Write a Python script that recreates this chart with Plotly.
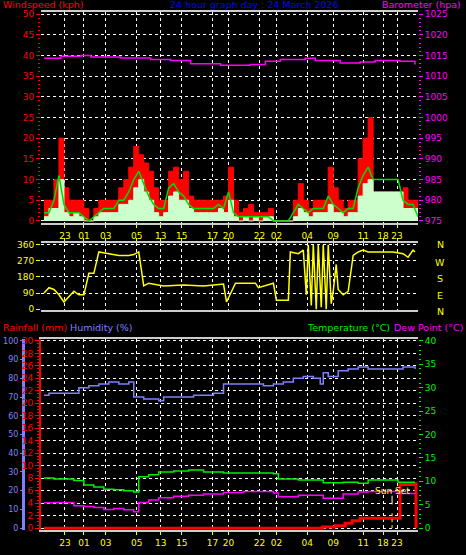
import plotly.graph_objects as go

# x positions are minutes-ish offsets along the log (irregular sample spacing)
tick_pos = [24, 43, 65, 96, 120, 141, 172, 188, 219, 236, 267, 293, 323, 343, 357]
tick_lab = ["23", "01", "03", "05", "13", "15", "17", "20", "22", "02", "04", "09", "11", "18", "23"]

wx = list(range(3, 379, 5))
gust = [5, 5, 10, 20, 8, 5, 5, 5, 3, 0, 3, 5, 5, 5, 5, 8, 10, 13, 18, 16, 14, 12, 8, 5, 5, 12, 13, 10, 12, 6,
        5, 5, 5, 5, 5, 5, 6, 13, 5, 2, 3, 4, 2, 2, 2, 3, 0, 0, 0, 0, 5, 9, 5, 3, 5, 5, 5, 13, 8, 5,
        3, 5, 5, 15, 20, 25, 7, 7, 7, 7, 7, 7, 8, 5, 5, 0]
avg = [2, 2, 5, 11, 4, 2, 2, 2, 1, 0, 1, 2, 3, 3, 3, 5, 5, 7, 10, 12, 9, 6, 4, 3, 3, 8, 9, 7, 6, 4,
       3, 3, 3, 3, 3, 4, 3, 7, 2, 1, 1, 1, 1, 1, 1, 1, 0, 0, 0, 0, 2, 4, 3, 2, 3, 3, 3, 6, 4, 3,
       2, 3, 3, 8, 11, 13, 10, 10, 10, 10, 10, 10, 5, 4, 4, 1]
wind = [1, 3, 3, 10, 2, 1, 2, 1, 0, 0, 1, 2, 2, 2, 2, 4, 4, 5, 8, 10, 7, 5, 2, 1, 2, 6, 7, 5, 5, 3,
        2, 2, 2, 2, 2, 3, 2, 5, 1, 0, 1, 0, 1, 0, 1, 1, 0, 0, 0, 0, 1, 3, 2, 1, 2, 2, 2, 4, 2, 2,
        1, 2, 2, 6, 9, 10, 7, 7, 7, 7, 7, 7, 3, 3, 3, 0]

px_ = [3, 20, 40, 50, 80, 110, 130, 150, 180, 210, 225, 240, 265, 275, 300, 320, 335, 360, 375]
pres = [1014.3, 1014.8, 1015, 1014.6, 1014.4, 1014, 1013.8, 1013, 1012.6, 1012.8, 1013.6, 1014, 1014.3,
        1013.8, 1013.2, 1013.4, 1013.8, 1013.6, 1012.8]

dx = [3, 8, 13, 18, 23, 28, 33, 38, 43, 48, 53, 58, 63, 68, 73, 78, 83, 88, 93, 98, 103, 108, 123, 143,
      163, 183, 186, 190, 195, 215, 218, 233, 236, 248, 250, 258, 263, 266, 268, 271, 273, 276, 278, 281,
      283, 286, 288, 291, 293, 296, 298, 303, 306, 308, 313, 318, 323, 328, 333, 353, 363, 368, 373, 375]
ddir = [90, 120, 110, 80, 40, 70, 100, 80, 80, 200, 200, 320, 315, 310, 305, 300, 300, 300, 305, 320,
        130, 145, 130, 135, 130, 140, 40, 90, 145, 145, 120, 145, 50, 50, 320, 310, 330, 80, 360, 20,
        360, 0, 360, 10, 360, 0, 360, 30, 100, 250, 110, 80, 90, 100, 300, 320, 330, 320, 320, 320, 310,
        290, 330, 320]

hx = [3, 8, 13, 23, 33, 38, 48, 58, 68, 78, 88, 93, 103, 113, 118, 123, 133, 143, 153, 163, 173, 183, 193,
      203, 213, 223, 233, 243, 253, 263, 273, 280, 283, 288, 298, 308, 318, 323, 328, 343, 358, 363, 373, 375]
hum = [71, 72, 72, 72, 72, 75, 76, 77, 78, 77, 78, 70, 69, 69, 68, 70, 70, 70, 71, 71, 72, 77, 77, 77,
       77, 76, 77, 78, 80, 81, 80, 77, 83, 81, 84, 85, 86, 86, 85, 85, 85, 86, 86, 85]

tx = [3, 13, 33, 43, 53, 63, 73, 83, 93, 98, 108, 118, 133, 148, 163, 183, 203, 233, 238, 258, 278, 283,
      303, 318, 328, 353, 358, 375]
temp = [10.7, 10.5, 10.2, 9.2, 8.8, 8.3, 8.2, 8.0, 7.7, 11.0, 11.4, 12.0, 12.2, 12.4, 12.0, 11.8, 11.8,
        11.6, 10.5, 10.3, 10.3, 9.7, 9.8, 9.6, 10.3, 10.3, 9.8, 9.8]
dew = [5.4, 5.5, 4.8, 4.6, 4.4, 4.0, 4.2, 3.9, 3.5, 5.5, 6.0, 6.5, 6.8, 7.0, 7.3, 7.6, 7.8, 7.5, 6.7,
       7.0, 7.0, 6.4, 7.3, 7.7, 7.8, 7.8, 7.4, 7.3]

rx = [3, 282, 295, 305, 312, 320, 357, 360, 375, 376]
rain = [0, 0.2, 0.4, 0.8, 1.2, 1.6, 1.6, 7.0, 7.1, 0]

W, H = 466, 555


def fx(p):
    return p / W


def fy(p):
    return 1 - p / H


fnt = dict(family="DejaVu Sans", size=9)
XR = [0, 378]
fig = go.Figure()
fig.add_trace(go.Scatter(x=wx, y=gust, mode="lines", line=dict(color="red", width=1, shape="hv"),
                         fill="tozeroy", fillcolor="red", xaxis="x", yaxis="y"))
fig.add_trace(go.Scatter(x=wx, y=wind, mode="lines", line=dict(color="#ccffcc", width=1, shape="hv"),
                         fill="tozeroy", fillcolor="#ccffcc", xaxis="x", yaxis="y"))
fig.add_trace(go.Scatter(x=wx, y=avg, mode="lines", line=dict(color="#00dd00", width=1.5), xaxis="x", yaxis="y"))
fig.add_trace(go.Scatter(x=px_, y=pres, mode="lines", line=dict(color="#ff00ff", width=1.5, shape="hv"),
                         xaxis="x", yaxis="y2"))
fig.add_trace(go.Scatter(x=dx, y=ddir, mode="lines", line=dict(color="yellow", width=1.5), xaxis="x2", yaxis="y3"))
fig.add_trace(go.Scatter(x=hx, y=hum, mode="lines", line=dict(color="#8080ff", width=1.5, shape="hv"),
                         xaxis="x3", yaxis="y5"))
fig.add_trace(go.Scatter(x=tx, y=temp, mode="lines", line=dict(color="#00ee00", width=1.5, shape="hv"),
                         xaxis="x3", yaxis="y6"))
fig.add_trace(go.Scatter(x=tx, y=dew, mode="lines", line=dict(color="#ff00ff", width=1.5, shape="hv"),
                         xaxis="x3", yaxis="y6"))
fig.add_trace(go.Scatter(x=rx, y=rain, mode="lines", line=dict(color="red", width=3, shape="hv"),
                         xaxis="x3", yaxis="y4"))
fig.add_trace(go.Scatter(x=[352, 352], y=[0, 2.5], mode="lines", line=dict(color="yellow", width=1, dash="dot"),
                         xaxis="x3", yaxis="y4"))
fig.add_trace(go.Scatter(x=[352, 352], y=[3.8, 5.2], mode="lines", line=dict(color="white", width=1),
                         xaxis="x3", yaxis="y4"))

xd = [fx(41), fx(418)]
grid = dict(showgrid=True, gridcolor="white", griddash="dot", gridwidth=1, zeroline=False,
            showline=True, linecolor="#cccccc", linewidth=2, mirror=True, automargin=False)


def xax(anchor, side="bottom", labels=True):
    return dict(domain=xd, range=XR, anchor=anchor, side=side, tickvals=tick_pos, ticktext=tick_lab,
                showticklabels=labels, tickangle=0, tickfont=dict(color="yellow", **fnt), ticks="outside",
                tickcolor="yellow", ticklen=3, **grid)


def yax(color, rng, dtick, **kw):
    d = dict(range=rng, dtick=dtick, tickfont=dict(color=color, **fnt), ticks="outside", tickcolor=color,
             ticklen=4, zeroline=False, automargin=False)
    d.update(kw)
    return d


fig.update_layout(
    width=W, height=H, margin=dict(l=0, r=0, t=0, b=0), showlegend=False,
    paper_bgcolor="black", plot_bgcolor="black",
    xaxis=xax("y"), xaxis2=xax("y3", "top", False), xaxis3=xax("y4"),
    yaxis=yax("red", [-0.5, 50.5], 5, domain=[fy(223), fy(12)], anchor="x", showgrid=True, gridcolor="white",
              griddash="dot", minor=dict(ticks="outside", dtick=1, ticklen=2, tickcolor="red")),
    yaxis2=yax("#ff00ff", [974.5, 1025.5], 5, overlaying="y", side="right", anchor="x", showgrid=False,
               minor=dict(ticks="outside", dtick=1, ticklen=2, tickcolor="#ff00ff")),
    yaxis3=yax("yellow", [-5, 370], 90, domain=[fy(310), fy(243)], anchor="x2", showgrid=True,
               gridcolor="white", griddash="dot"),
    yaxis4=yax("red", [-0.3, 30.3], 2, domain=[fy(530), fy(339)], anchor="x3", showgrid=True,
               gridcolor="white", griddash="dot", showline=True, linecolor="red", linewidth=2,
               minor=dict(ticks="outside", dtick=0.5, ticklen=2, tickcolor="red")),
    yaxis5=yax("#8080ff", [-1, 101], 10, overlaying="y4", anchor="free", position=fx(23), side="left",
               showgrid=False, showline=True, linecolor="#8080ff", linewidth=3, ticklen=2,
               tickfont=dict(color="#8080ff", family="DejaVu Sans", size=8)),
    yaxis6=yax("#00ee00", [-0.4, 40.4], 5, overlaying="y4", side="right", anchor="x3", showgrid=False,
               minor=dict(ticks="outside", dtick=1, ticklen=2, tickcolor="#00ee00")),
)

ann = [
    (fx(1), 4, "Windspeed (kph)", "red", "left"),
    (fx(255), 4, "24 hour graph day : 24 March 2026", "blue", "center"),
    (fx(463), 4, "Barometer (hpa)", "#ff00ff", "right"),
    (fx(1), 327, "Rainfall (mm)", "red", "left"),
    (fx(68), 327, "Humidity (%)", "#8080ff", "left"),
    (fx(392), 327, "Dew Point (°C)", "#ff00ff", "left"),
    (fx(392), 327, "Temperature (°C)", "#00ee00", "right"),
    (fx(440), 245, "N", "yellow", "center"),
    (fx(440), 262, "W", "yellow", "center"),
    (fx(440), 278, "S", "yellow", "center"),
    (fx(440), 295, "E", "yellow", "center"),
    (fx(440), 311, "N", "yellow", "center"),
]
for x, ypix, t, c, a in ann:
    fig.add_annotation(x=x, y=fy(ypix), xref="paper", yref="paper", text=t, showarrow=False,
                       xanchor=a, yanchor="middle", font=dict(family="DejaVu Sans", size=9.5, color=c))
fig.add_annotation(x=352, y=4.8, xref="x3", yref="y4", text="Sun Set", showarrow=False, yanchor="bottom",
                   font=dict(family="DejaVu Sans", size=9, color="yellow"))

fig.write_html("out.html", config={"displayModeBar": False},
               post_script="document.body.style.margin='0';")
